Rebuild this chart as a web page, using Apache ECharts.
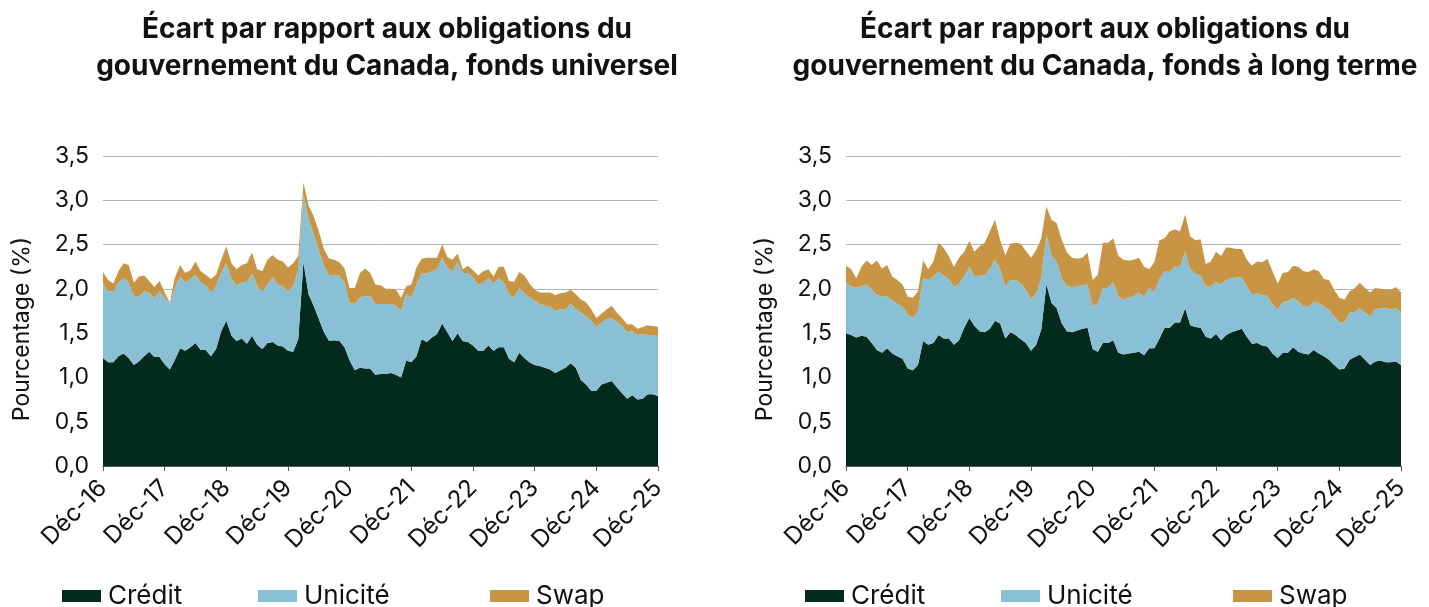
<!DOCTYPE html>
<html>
<head>
<meta charset="utf-8">
<script src="https://cdn.jsdelivr.net/npm/echarts@6/dist/echarts.min.js"></script>
<style>
  html, body { margin: 0; padding: 0; background: #fff; }
  #chart { width: 1429px; height: 607px; }
</style>
</head>
<body>
<div id="chart"></div>
<script>
// mois de déc. 2016 à déc. 2025
const monthNames = ['Déc', 'Janv', 'Févr', 'Mars', 'Avr', 'Mai', 'Juin', 'Juil', 'Août', 'Sept', 'Oct', 'Nov']
const categories = []
for (let i = 0; i <= 108; i++) {
  const yr = 16 + Math.floor((i + 11) / 12)
  categories.push(monthNames[i % 12] + '-' + yr)
}

// fonds universel
const univCredit = [
  1.22, 1.17, 1.17, 1.24, 1.27, 1.22, 1.14, 1.18, 1.24, 1.29, 1.23, 1.23,
  1.15, 1.09, 1.20, 1.33, 1.30, 1.34, 1.39, 1.31, 1.31, 1.24, 1.32, 1.52,
  1.64, 1.47, 1.41, 1.44, 1.38, 1.47, 1.37, 1.32, 1.39, 1.40, 1.36, 1.35,
  1.30, 1.29, 1.43, 2.30, 1.94, 1.81, 1.66, 1.51, 1.41, 1.42, 1.41, 1.34,
  1.19, 1.08, 1.11, 1.10, 1.10, 1.03, 1.04, 1.04, 1.05, 1.03, 1.00, 1.19,
  1.17, 1.24, 1.43, 1.40, 1.45, 1.49, 1.61, 1.51, 1.41, 1.50, 1.41, 1.40,
  1.36, 1.30, 1.30, 1.36, 1.30, 1.34, 1.34, 1.21, 1.17, 1.28, 1.22, 1.17,
  1.14, 1.13, 1.11, 1.09, 1.05, 1.08, 1.11, 1.16, 1.11, 0.97, 0.92, 0.85,
  0.85, 0.92, 0.94, 0.96, 0.89, 0.82, 0.76, 0.80, 0.75, 0.76, 0.81, 0.81,
  0.79
]
const univUnicite = [
  0.84, 0.80, 0.80, 0.83, 0.85, 0.85, 0.78, 0.73, 0.73, 0.67, 0.66, 0.74,
  0.74, 0.75, 0.81, 0.81, 0.77, 0.77, 0.77, 0.76, 0.73, 0.72, 0.71, 0.66,
  0.65, 0.64, 0.63, 0.63, 0.70, 0.70, 0.66, 0.65, 0.66, 0.73, 0.69, 0.68,
  0.67, 0.74, 0.79, 0.77, 0.85, 0.81, 0.77, 0.75, 0.74, 0.74, 0.74, 0.73,
  0.65, 0.75, 0.79, 0.82, 0.82, 0.80, 0.79, 0.79, 0.78, 0.78, 0.75, 0.75,
  0.73, 0.81, 0.75, 0.77, 0.75, 0.73, 0.74, 0.73, 0.79, 0.80, 0.77, 0.78,
  0.77, 0.75, 0.77, 0.76, 0.76, 0.78, 0.73, 0.73, 0.73, 0.73, 0.73, 0.73,
  0.73, 0.70, 0.70, 0.71, 0.70, 0.69, 0.66, 0.67, 0.67, 0.76, 0.77, 0.79,
  0.72, 0.70, 0.72, 0.71, 0.74, 0.76, 0.75, 0.72, 0.73, 0.73, 0.67, 0.66,
  0.68
]
const univSwap = [
  0.13, 0.13, 0.09, 0.13, 0.17, 0.20, 0.15, 0.23, 0.18, 0.13, 0.13, 0.12,
  0.07, 0.01, 0.12, 0.13, 0.11, 0.10, 0.15, 0.13, 0.12, 0.15, 0.13, 0.15,
  0.19, 0.18, 0.18, 0.20, 0.21, 0.24, 0.19, 0.23, 0.28, 0.25, 0.28, 0.28,
  0.27, 0.26, 0.15, 0.13, 0.15, 0.20, 0.22, 0.19, 0.19, 0.17, 0.15, 0.16,
  0.17, 0.18, 0.28, 0.31, 0.26, 0.22, 0.21, 0.17, 0.17, 0.18, 0.15, 0.09,
  0.15, 0.19, 0.16, 0.18, 0.15, 0.13, 0.15, 0.12, 0.13, 0.10, 0.04, 0.08,
  0.08, 0.10, 0.13, 0.10, 0.08, 0.13, 0.18, 0.15, 0.18, 0.18, 0.20, 0.16,
  0.12, 0.13, 0.15, 0.16, 0.18, 0.18, 0.19, 0.16, 0.16, 0.15, 0.16, 0.13,
  0.10, 0.10, 0.11, 0.14, 0.10, 0.09, 0.09, 0.08, 0.07, 0.08, 0.11, 0.11,
  0.10
]

// fonds à long terme
const longCredit = [
  1.50, 1.48, 1.45, 1.47, 1.46, 1.39, 1.31, 1.28, 1.33, 1.27, 1.24, 1.21,
  1.10, 1.08, 1.14, 1.41, 1.37, 1.39, 1.48, 1.44, 1.44, 1.37, 1.42, 1.56,
  1.67, 1.58, 1.52, 1.51, 1.55, 1.64, 1.61, 1.44, 1.51, 1.48, 1.43, 1.39,
  1.30, 1.37, 1.54, 2.05, 1.84, 1.78, 1.61, 1.52, 1.51, 1.53, 1.55, 1.56,
  1.32, 1.29, 1.39, 1.39, 1.42, 1.28, 1.26, 1.27, 1.28, 1.29, 1.25, 1.33,
  1.33, 1.44, 1.56, 1.56, 1.62, 1.62, 1.78, 1.59, 1.57, 1.56, 1.46, 1.44,
  1.49, 1.42, 1.48, 1.51, 1.53, 1.55, 1.46, 1.38, 1.39, 1.36, 1.35, 1.27,
  1.22, 1.28, 1.28, 1.34, 1.29, 1.27, 1.26, 1.31, 1.27, 1.24, 1.20, 1.14,
  1.09, 1.10, 1.20, 1.23, 1.26, 1.20, 1.14, 1.18, 1.19, 1.17, 1.17, 1.18,
  1.14
]
const longUnicite = [
  0.57, 0.55, 0.56, 0.56, 0.59, 0.60, 0.62, 0.63, 0.59, 0.60, 0.59, 0.59,
  0.61, 0.59, 0.60, 0.71, 0.73, 0.75, 0.72, 0.71, 0.67, 0.65, 0.64, 0.58,
  0.58, 0.56, 0.63, 0.64, 0.68, 0.69, 0.61, 0.59, 0.59, 0.62, 0.63, 0.60,
  0.58, 0.58, 0.58, 0.56, 0.54, 0.53, 0.51, 0.51, 0.51, 0.50, 0.49, 0.49,
  0.48, 0.55, 0.62, 0.62, 0.66, 0.63, 0.62, 0.63, 0.64, 0.67, 0.66, 0.68,
  0.64, 0.67, 0.64, 0.63, 0.63, 0.63, 0.64, 0.63, 0.60, 0.59, 0.57, 0.59,
  0.59, 0.63, 0.62, 0.61, 0.60, 0.58, 0.57, 0.56, 0.56, 0.57, 0.57, 0.55,
  0.55, 0.57, 0.58, 0.56, 0.57, 0.53, 0.54, 0.54, 0.57, 0.56, 0.56, 0.55,
  0.53, 0.52, 0.53, 0.51, 0.52, 0.53, 0.55, 0.59, 0.59, 0.61, 0.60, 0.60,
  0.59
]
const longSwap = [
  0.19, 0.19, 0.11, 0.22, 0.27, 0.28, 0.39, 0.32, 0.35, 0.27, 0.27, 0.25,
  0.20, 0.23, 0.23, 0.20, 0.12, 0.17, 0.32, 0.31, 0.26, 0.23, 0.29, 0.28,
  0.29, 0.28, 0.33, 0.37, 0.42, 0.45, 0.33, 0.35, 0.41, 0.42, 0.45, 0.44,
  0.47, 0.49, 0.45, 0.32, 0.40, 0.43, 0.43, 0.38, 0.33, 0.31, 0.31, 0.36,
  0.30, 0.32, 0.51, 0.51, 0.49, 0.46, 0.45, 0.42, 0.41, 0.39, 0.34, 0.21,
  0.33, 0.44, 0.37, 0.46, 0.42, 0.40, 0.42, 0.37, 0.38, 0.41, 0.25, 0.28,
  0.34, 0.32, 0.37, 0.34, 0.32, 0.32, 0.30, 0.32, 0.36, 0.37, 0.42, 0.38,
  0.29, 0.33, 0.33, 0.36, 0.39, 0.40, 0.39, 0.37, 0.36, 0.31, 0.34, 0.30,
  0.28, 0.26, 0.24, 0.27, 0.29, 0.28, 0.27, 0.24, 0.22, 0.21, 0.22, 0.24,
  0.23
]

const titles = [
  'Écart par rapport aux obligations du\ngouvernement du Canada, fonds universel',
  'Écart par rapport aux obligations du\ngouvernement du Canada, fonds à long terme'
]
const seriesNames = ['Crédit', 'Unicité', 'Swap']
const colors = ['#022b1d', '#89c0d5', '#c89545']

const FONT = 'Inter, "Noto Sans", sans-serif'
const TXT = '#111'

const chart = echarts.init(document.getElementById('chart'))

function xAxis(idx) {
  return {
    type: 'category',
    gridIndex: idx,
    data: categories,
    boundaryGap: false,
    axisLine: { lineStyle: { color: '#555', width: 1 } },
    axisTick: { interval: 11, length: 5, lineStyle: { color: '#555' } },
    axisLabel: {
      interval: 11,
      rotate: 45,
      margin: 18,
      align: 'right',
      verticalAlign: 'middle',
      padding: [46, 0, 0, 0],
      fontFamily: FONT,
      fontSize: 24,
      color: TXT
    },
    splitLine: { show: false }
  }
}

function yAxis(idx) {
  return {
    type: 'value',
    gridIndex: idx,
    min: 0,
    max: 3.5,
    interval: 0.5,
    name: 'Pourcentage (%)',
    nameLocation: 'middle',
    nameGap: 69,
    nameTextStyle: { fontFamily: FONT, fontSize: 23, color: TXT, padding: [0, 36, 0, 0] },
    axisLine: { show: false },
    axisTick: { show: false },
    axisLabel: {
      margin: 14,
      fontFamily: FONT,
      fontSize: 23,
      color: TXT,
      formatter: v => v.toFixed(1).replace('.', ',')
    },
    splitLine: { lineStyle: { color: '#b4b4b4', width: 1 } }
  }
}

function areaSeries(name, data, idx, color) {
  return {
    name: name,
    type: 'line',
    xAxisIndex: idx,
    yAxisIndex: idx,
    stack: 'total' + idx,
    data: data,
    symbol: 'none',
    lineStyle: { width: 0 },
    areaStyle: { color: color, opacity: 1 },
    itemStyle: { color: color },
    emphasis: { disabled: true }
  }
}

// une légende par élément pour reproduire l'espacement d'origine
const legendLeft = [62, 258, 490]
const legends = []
;[0, 743].forEach(off => {
  seriesNames.forEach((n, k) => {
    legends.push({
      data: [n],
      left: legendLeft[k] + off,
      top: 583,
      icon: 'rect',
      itemWidth: 39,
      itemHeight: 12,
      itemGap: 0,
      padding: 0,
      textStyle: { fontFamily: FONT, fontSize: 26, color: TXT, padding: [2, 0, 0, 2] },
      selectedMode: false
    })
  })
})

const titleStyle = { fontFamily: FONT, fontSize: 28, fontWeight: 'bold', color: TXT, lineHeight: 37 }

chart.setOption({
  animation: false,
  color: colors,
  title: [
    { text: titles[0], left: 382, top: 6, textAlign: 'center', textStyle: titleStyle },
    { text: titles[1], left: 1100, top: 6, textAlign: 'center', textStyle: titleStyle }
  ],
  legend: legends,
  grid: [
    { left: 103, top: 156, width: 555, height: 310 },
    { left: 846, top: 156, width: 555, height: 310 }
  ],
  xAxis: [xAxis(0), xAxis(1)],
  yAxis: [yAxis(0), yAxis(1)],
  series: [
    areaSeries('Crédit', univCredit, 0, colors[0]),
    areaSeries('Unicité', univUnicite, 0, colors[1]),
    areaSeries('Swap', univSwap, 0, colors[2]),
    areaSeries('Crédit', longCredit, 1, colors[0]),
    areaSeries('Unicité', longUnicite, 1, colors[1]),
    areaSeries('Swap', longSwap, 1, colors[2])
  ]
})
</script>
</body>
</html>
